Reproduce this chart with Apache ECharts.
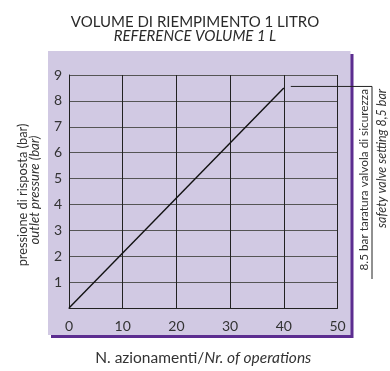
<!DOCTYPE html>
<html>
<head>
<meta charset="utf-8">
<script src="https://cdn.jsdelivr.net/npm/echarts@6/dist/echarts.min.js"></script>
<style>
  html, body { margin: 0; padding: 0; background: #fff; }
  #chart { width: 390px; height: 371px; }
</style>
</head>
<body>
<div id="chart"></div>
<script>
// Operations count vs. outlet pressure, 1 L reference volume
const operations = [0, 40];
const pressure = [0, 8.5];
const safetySetting = 8.5;
const xTicks = [0, 10, 20, 30, 40, 50];
const yTicks = [0, 1, 2, 3, 4, 5, 6, 7, 8, 9];

const FONT = 'Lato, "DejaVu Sans", sans-serif';
const PANEL = '#d1c9e3';
const SHADOW = '#5c2d90';
const INK = '#2a2a2a';

const chart = echarts.init(document.getElementById('chart'), null, { renderer: 'canvas' });

const option = {
  animation: false,
  backgroundColor: '#ffffff',
  title: {
    left: 'center',
    top: 10,
    text: '{a|VOLUME DI RIEMPIMENTO 1 LITRO}\n{b|REFERENCE VOLUME 1 L}',
    textStyle: {
      fontWeight: 'normal',
      rich: {
        a: { fontFamily: FONT, fontSize: 15, fontWeight: 'normal', color: INK, lineHeight: 14 },
        b: { fontFamily: FONT, fontSize: 15, fontWeight: 'normal', fontStyle: 'italic', color: INK, lineHeight: 14 }
      }
    }
  },
  grid: { left: 69, right: 52.5, top: 75, bottom: 54.3 },
  xAxis: {
    type: 'value',
    min: xTicks[0],
    max: xTicks[xTicks.length - 1],
    interval: 10,
    axisLine: { show: true, lineStyle: { color: '#222', width: 1 } },
    axisTick: { show: false },
    axisLabel: { margin: 11, fontFamily: FONT, fontSize: 14, color: '#333' },
    splitLine: { show: true, lineStyle: { color: '#222', width: 1 } },
    name: 'N. azionamenti/{i|Nr. of operations}',
    nameLocation: 'middle',
    nameGap: 42,
    nameTextStyle: {
      fontFamily: FONT, fontSize: 15.5, color: '#333',
      rich: { i: { fontFamily: FONT, fontSize: 15.5, fontStyle: 'italic', color: '#333' } }
    }
  },
  yAxis: {
    type: 'value',
    min: yTicks[0],
    max: yTicks[yTicks.length - 1],
    interval: 1,
    axisLine: { show: true, lineStyle: { color: '#222', width: 1 } },
    axisTick: { show: false },
    axisLabel: {
      margin: 7, fontFamily: FONT, fontSize: 14, color: '#333',
      formatter: v => (v === 0 ? '' : String(v))
    },
    splitLine: { show: true, lineStyle: { color: '#555', width: 1 } }
  },
  series: [{
    type: 'line',
    data: operations.map((x, i) => [x, pressure[i]]),
    showSymbol: false,
    lineStyle: { color: '#111', width: 1.4 },
    z: 5
  }]
};

chart.setOption(option);

// Panel, axis title and safety-valve annotation placed from the grid's pixel frame
function drawDecor() {
  const conv = (x, y) => chart.convertToPixel({ gridIndex: 0 }, [x, y]);
  const [x0, y0] = conv(0, 0);
  const [x50, y9] = conv(50, 9);
  const [xEnd, ySafe] = conv(operations[1], safetySetting);

  const panel = { x: x0 - 21, y: y9 - 24, w: (x50 - x0) + 34, h: (y0 - y9) + 51 };
  const leadX2 = 372;

  chart.setOption({
    graphic: [
      { type: 'rect', z: -10, silent: true,
        shape: { x: panel.x + 3, y: panel.y + 3, width: panel.w, height: panel.h },
        style: { fill: SHADOW } },
      { type: 'rect', z: -9, silent: true,
        shape: { x: panel.x, y: panel.y, width: panel.w, height: panel.h },
        style: { fill: PANEL } },
      { type: 'text', silent: true, x: 23, y: 195, rotation: Math.PI / 2,
        style: {
          text: 'pressione di risposta (bar)',
          align: 'center', verticalAlign: 'middle',
          fontFamily: FONT, fontSize: 12.8, fill: '#333'
        } },
      { type: 'text', silent: true, x: 35, y: 190, rotation: Math.PI / 2,
        style: {
          text: 'outlet pressure (bar)',
          align: 'center', verticalAlign: 'middle',
          fontFamily: FONT, fontSize: 13.2, fontStyle: 'italic', fill: '#333'
        } },
      { type: 'line', silent: true, z: 10,
        shape: { x1: xEnd + 7, y1: ySafe - 1.5, x2: leadX2, y2: ySafe - 1.5 },
        style: { stroke: '#222', lineWidth: 1 } },
      { type: 'line', silent: true, z: 10,
        shape: { x1: leadX2, y1: ySafe - 1.5, x2: leadX2, y2: 279 },
        style: { stroke: '#222', lineWidth: 1 } },
      { type: 'text', silent: true, x: 364, y: ySafe + 1, rotation: Math.PI / 2,
        style: {
          text: '8.5 bar taratura valvola di sicurezza',
          align: 'right', verticalAlign: 'middle',
          fontFamily: FONT, fontSize: 11.8, fill: '#333'
        } },
      { type: 'text', silent: true, x: 382, y: ySafe + 1, rotation: Math.PI / 2,
        style: {
          text: 'safety valve setting 8,5 bar',
          align: 'right', verticalAlign: 'middle',
          fontFamily: FONT, fontSize: 12.5, fontStyle: 'italic', fill: '#333'
        } }
    ]
  });
}
drawDecor();
</script>
</body>
</html>
